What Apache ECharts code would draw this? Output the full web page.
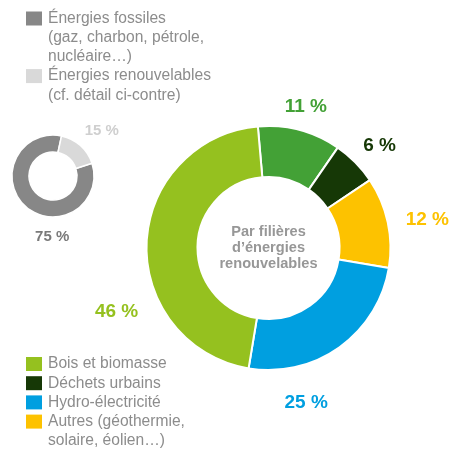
<!DOCTYPE html>
<html><head><meta charset="utf-8">
<script src="https://cdn.jsdelivr.net/npm/echarts@6/dist/echarts.min.js"></script>
<style>html,body{margin:0;padding:0;background:#fff}#c{width:450px;height:449px}</style>
</head><body><div id="c"></div>
<script>
// ---- data ----
const mixCategories = ['Énergies fossiles', 'Énergies renouvelables'];
const mixValues = [75, 15];
const mixLegendLabels = ['Énergies fossiles\n(gaz, charbon, pétrole,\nnucléaire…)', 'Énergies renouvelables\n(cf. détail ci-contre)'];

const renewCategories = ['Autre filière', 'Déchets urbains', 'Autres (géothermie, solaire, éolien…)', 'Hydro-électricité', 'Bois et biomasse'];
const renewValues = [11, 6, 12, 25, 46];
const renewLegendLabels = ['Bois et biomasse', 'Déchets urbains', 'Hydro-électricité', 'Autres (géothermie,\nsolaire, éolien…)'];
const centerTitle = 'Par filières\nd’énergies\nrenouvelables';

// ---- styles ----
const mixColors = ['#878787', '#d9d9d9'];
const mixLabelColors = ['#7a7a7a', '#cfcfcf'];
const renewColors = ['#43a136', '#163806', '#fdc200', '#009fe0', '#95c11f'];
const renewLegendColors = ['#95c11f', '#163806', '#009fe0', '#fdc200'];
const FONT = '"Liberation Sans", Arial, Helvetica, sans-serif';
const TEXT_GRAY = '#8c8c8c';
const nudgeBig = [[-4, -4], [5, -3], [15, 2], [-50, 39], [-5, 69]];
const nudgeSmall = [[45, 16], [3, 0]];

const chart = echarts.init(document.getElementById('c'));

function legendGraphics(labels, colors, x, yStart, lineH) {
  const els = [];
  let y = yStart;
  labels.forEach((t, i) => {
    const lines = t.split('\n').length;
    els.push({ type: 'rect', left: x, top: y - 7, shape: { width: 16, height: 14 }, style: { fill: colors[i] }, silent: true });
    els.push({ type: 'text', x: x + 22, y: y - lineH / 2, style: { text: t, font: '15.6px ' + FONT, fill: TEXT_GRAY, lineHeight: lineH, verticalAlign: 'top', align: 'left' }, silent: true });
    y += lines * lineH;
  });
  return els;
}

chart.setOption({
  animation: false,
  graphic: [
    ...legendGraphics(mixLegendLabels, mixColors, 26, 18.5, 19.2),
    ...legendGraphics(renewLegendLabels, renewLegendColors, 26, 364, 19.2),
    { type: 'text', x: 268.5, y: 248, style: { text: centerTitle, font: 'bold 14.6px ' + FONT, fill: '#979797', lineHeight: 15.8, align: 'center', verticalAlign: 'middle' }, silent: true }
  ],
  series: [
    {
      type: 'pie',
      center: [53, 176],
      radius: [24, 41],
      startAngle: 18,
      clockwise: true,
      avoidLabelOverlap: false,
      silent: true,
      itemStyle: { borderColor: '#fff', borderWidth: 1.5 },
      label: { show: true, position: 'outside', formatter: '{c} %', fontFamily: FONT, fontWeight: 'bold', fontSize: 15 },
      labelLine: { show: false, length: 20, length2: 0 },
      labelLayout: p => ({ align: 'center', dx: nudgeSmall[p.dataIndex][0], dy: nudgeSmall[p.dataIndex][1] }),
      data: mixCategories.map((n, i) => ({ name: n, value: mixValues[i], itemStyle: { color: mixColors[i] }, label: { color: mixLabelColors[i] } }))
    },
    {
      type: 'pie',
      center: [268.5, 248],
      radius: [71, 122],
      startAngle: 95,
      clockwise: true,
      avoidLabelOverlap: false,
      silent: true,
      itemStyle: { borderColor: '#fff', borderWidth: 2 },
      label: { show: true, position: 'outside', formatter: '{c} %', fontFamily: FONT, fontWeight: 'bold', fontSize: 19 },
      labelLine: { show: false, length: 20, length2: 0 },
      labelLayout: p => ({ align: 'center', dx: nudgeBig[p.dataIndex][0], dy: nudgeBig[p.dataIndex][1] }),
      data: renewCategories.map((n, i) => ({ name: n, value: renewValues[i], itemStyle: { color: renewColors[i] }, label: { color: renewColors[i] } }))
    }
  ]
});
</script>
</body></html>
